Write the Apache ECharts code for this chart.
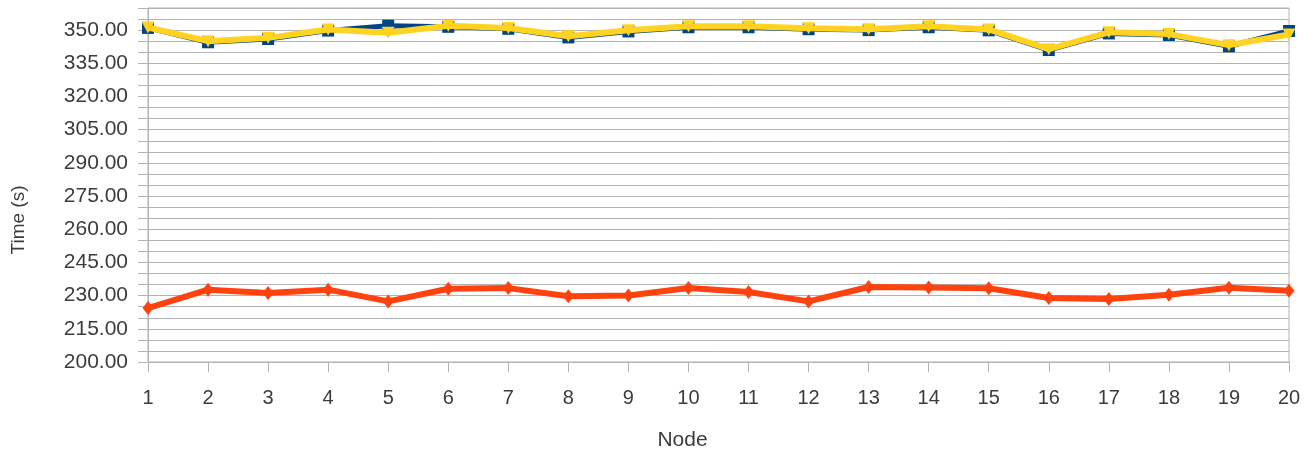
<!DOCTYPE html>
<html>
<head>
<meta charset="utf-8">
<script src="https://cdn.jsdelivr.net/npm/echarts@6/dist/echarts.min.js"></script>
<style>
  html, body { margin: 0; padding: 0; background: #ffffff; }
  #chart { width: 1315px; height: 451px; }
</style>
</head>
<body>
<div id="chart"></div>
<script>
// Node ids along the x axis
const nodes = ['1','2','3','4','5','6','7','8','9','10','11','12','13','14','15','16','17','18','19','20'];

// Run times per node, in seconds
const blueTimes   = [351.0, 344.5, 346.0, 349.8, 352.0, 351.5, 350.6, 346.7, 349.4, 351.3, 351.3, 350.4, 350.0, 351.3, 349.9, 341.0, 348.5, 347.8, 342.7, 349.6];
const orangeTimes = [224.4, 232.7, 231.2, 232.7, 227.4, 233.1, 233.4, 229.7, 230.1, 233.4, 231.6, 227.4, 233.9, 233.7, 233.3, 228.9, 228.5, 230.4, 233.6, 232.2];
const yellowTimes = [351.2, 345.0, 346.5, 350.3, 348.8, 352.0, 351.0, 347.2, 349.9, 351.7, 351.7, 350.8, 350.4, 351.7, 350.3, 341.4, 349.0, 348.2, 343.2, 348.0];

// Y axis range; labelled every 15 s, gridlines every 5 s
const yMin = 200, yMax = 360, yStep = 5, yLabelStep = 15;

const gridGray = '#b3b3b3';
const textGray = '#3c3c3c';
const font = 'Liberation Sans, Arial, sans-serif';

const chart = echarts.init(document.getElementById('chart'), null, { renderer: 'canvas' });

chart.setOption({
  animation: false,
  backgroundColor: '#ffffff',
  grid: {
    left: 148, right: 26, top: 8, bottom: 89,
    containLabel: false,
    outerBoundsMode: 'none',
    show: true, borderColor: gridGray, borderWidth: 1, backgroundColor: 'transparent'
  },
  xAxis: {
    type: 'category',
    data: nodes,
    boundaryGap: false,
    name: 'Node',
    nameLocation: 'middle',
    nameGap: 68,
    nameTextStyle: { color: textGray, fontSize: 21, fontFamily: font, padding: [0, 72, 0, 0] },
    axisLine: { lineStyle: { color: gridGray, width: 1 } },
    axisTick: { show: true, length: 10, lineStyle: { color: gridGray } },
    axisLabel: { color: textGray, fontSize: 20, fontFamily: font, margin: 26 },
    splitLine: { show: false }
  },
  yAxis: {
    type: 'value',
    min: yMin, max: yMax, interval: yStep,
    name: 'Time (s)',
    nameLocation: 'middle',
    nameGap: 120,
    nameTextStyle: { color: textGray, fontSize: 19, fontFamily: font, padding: [0, 70, 0, 0] },
    axisLine: { show: true, lineStyle: { color: gridGray, width: 1 } },
    axisTick: { show: true, length: 10, lineStyle: { color: gridGray } },
    axisLabel: {
      color: textGray, fontSize: 21, fontFamily: font, margin: 20,
      formatter: v => ((v - yMin) % yLabelStep === 0 ? v.toFixed(2) : '')
    },
    splitLine: { show: true, lineStyle: { color: gridGray, width: 1 } }
  },
  series: [
    {
      name: 'Series A',
      type: 'line',
      data: blueTimes,
      symbol: 'rect',
      symbolSize: 12,
      showAllSymbol: true,
      lineStyle: { color: '#004586', width: 5 },
      itemStyle: { color: '#004586' },
      z: 2
    },
    {
      name: 'Series B',
      type: 'line',
      data: orangeTimes,
      symbol: 'diamond',
      symbolSize: [11, 14],
      showAllSymbol: true,
      lineStyle: { color: '#ff420e', width: 6 },
      itemStyle: { color: '#ff420e' },
      z: 3
    },
    {
      name: 'Series C',
      type: 'line',
      data: yellowTimes,
      symbol: 'triangle',
      symbolRotate: 180,
      symbolSize: [13, 12],
      showAllSymbol: true,
      lineStyle: { color: '#ffd320', width: 6 },
      itemStyle: { color: '#ffd320' },
      z: 4
    }
  ]
});
</script>
</body>
</html>
